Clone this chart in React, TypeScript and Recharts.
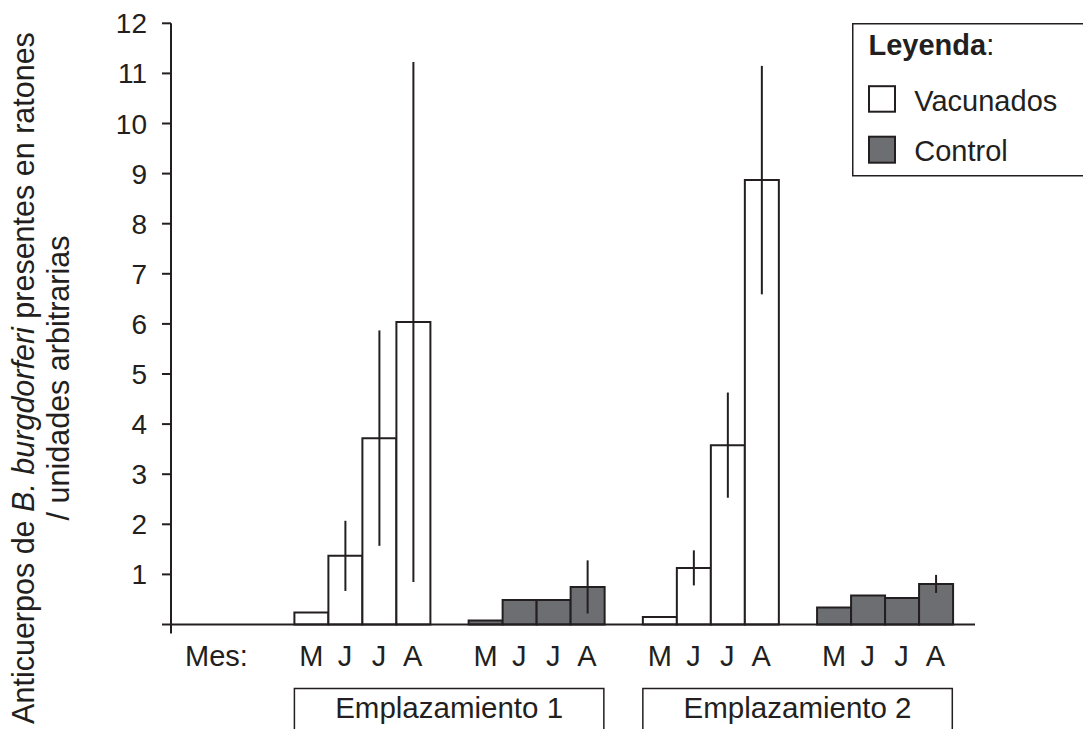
import React from "react";
import { BarChart, Bar, XAxis, YAxis, ErrorBar, Cell, Legend, Label } from "recharts";

// tick labels / categories
const months = ["M", "J", "J", "A"];
const groups = ["Vacunados 1", "Control 1", "Vacunados 2", "Control 2"];
const sites = ["Emplazamiento 1", "Emplazamiento 2"];
const yTicks = [0, 1, 2, 3, 4, 5, 6, 7, 8, 9, 10, 11, 12];

// values (M, J, J, A)
const vacunados1 = [0.24, 1.37, 3.72, 6.04];
const vacunados1Err = [0, 0.7, 2.15, 5.19];
const control1 = [0.08, 0.49, 0.49, 0.75];
const control1Err = [0, 0, 0, 0.53];
const vacunados2 = [0.15, 1.13, 3.58, 8.87];
const vacunados2Err = [0, 0.35, 1.05, 2.28];
const control2 = [0.34, 0.58, 0.53, 0.81];
const control2Err = [0, 0, 0, 0.18];

const series = [vacunados1, control1, vacunados2, control2];
const errors = [vacunados1Err, control1Err, vacunados2Err, control2Err];

const data = groups.map((group, g) => {
	const row: any = { group, control: g % 2 === 1 };
	months.forEach((_, m) => {
		row[`m${m}`] = series[g][m];
		row[`e${m}`] = errors[g][m];
	});
	return row;
});

// layout
const W = 1083;
const H = 729;
const LEFT = 171;
const RIGHT = 975;
const TOP = 23.3;
const BOTTOM = 624.5;
const Y_AXIS_W = 60;
const X_AXIS_H = 60;
const PAD_L = 103.9;
const PAD_R = 3.2;
const CAT_GAP = 19.5;
const BAND = (RIGHT - LEFT - PAD_L - PAD_R) / groups.length;
const BAR_W = (BAND - 2 * CAT_GAP) / months.length;

const INK = "#231f20";
const GREY = "#6d6e71";
const FONT = "'Liberation Sans', Arial, Helvetica, sans-serif";

const XTick = (props: any) => {
	const { x, payload } = props;
	const idx = payload.index;
	const isSiteStart = idx % 2 === 0;
	const left = x - 2 * BAR_W;
	const right = x + BAND + 2 * BAR_W;
	return (
		<g>
			{months.map((m, i) => (
				<text
					key={i}
					x={x + (i - 1.5) * BAR_W}
					y={666}
					textAnchor="middle"
					fontSize={29}
					fontFamily={FONT}
					fill={INK}
				>
					{m}
				</text>
			))}
			{isSiteStart && (
				<g>
					<path
						d={`M${left},${H} V688.5 H${right} V${H}`}
						fill="none"
						stroke={INK}
						strokeWidth={1.5}
					/>
					<text
						x={(left + right) / 2}
						y={718}
						textAnchor="middle"
						fontSize={29.5}
						fontFamily={FONT}
						fill={INK}
					>
						{sites[idx / 2]}
					</text>
				</g>
			)}
		</g>
	);
};

const YTick = (props: any) => {
	const { x, y, payload } = props;
	if (payload.value === 0) {
		return <line x1={LEFT} y1={BOTTOM} x2={LEFT} y2={BOTTOM + 9} stroke={INK} strokeWidth={2} />;
	}
	return (
		<text x={x} y={y} dy="0.36em" textAnchor="end" fontSize={28} fontFamily={FONT} fill={INK}>
			{payload.value}
		</text>
	);
};

const YLabel = () => {
	const cy = 378;
	return (
		<g fontFamily={FONT} fontSize={30.5} fill={INK}>
			<text transform={`translate(34,${cy}) rotate(-90)`} textAnchor="middle">
				Anticuerpos de <tspan fontStyle="italic">B. burgdorferi</tspan> presentes en ratones
			</text>
			<text transform={`translate(68.5,${cy}) rotate(-90)`} textAnchor="middle">
				/ unidades arbitrarias
			</text>
		</g>
	);
};

const LegendBox = () => {
	const bw = W - 851.7;
	const bh = 153.4;
	return (
		<svg width={bw} height={bh} style={{ display: "block" }}>
			<path d={`M${bw},0.75 H0.75 V${bh - 0.75} H${bw}`} fill="none" stroke={INK} strokeWidth={1.5} />
			<text x={16.5} y={31.7} fontSize={29} fontFamily={FONT} fill={INK}>
				<tspan fontWeight="bold">Leyenda</tspan>:
			</text>
			<rect x={17} y={63.2} width={26} height={25.5} fill="#ffffff" stroke={INK} strokeWidth={2} />
			<text x={62.3} y={88.4} fontSize={29} fontFamily={FONT} fill={INK}>
				Vacunados
			</text>
			<rect x={17} y={113.7} width={26} height={26} fill={GREY} stroke={INK} strokeWidth={2} />
			<text x={62.3} y={138.4} fontSize={29} fontFamily={FONT} fill={INK}>
				Control
			</text>
		</svg>
	);
};

const App = () => {
	return (
		<div style={{ position: "absolute", left: 0, top: 0, width: W, height: H, background: "#fff" }}>
			<BarChart
				width={W}
				height={H}
				data={data}
				margin={{ top: TOP, right: W - RIGHT, left: LEFT - Y_AXIS_W, bottom: H - BOTTOM - X_AXIS_H }}
				barCategoryGap={CAT_GAP}
				barGap={0}
			>
				<XAxis
					dataKey="group"
					type="category"
					interval={0}
					height={X_AXIS_H}
					padding={{ left: PAD_L, right: PAD_R }}
					axisLine={{ stroke: INK, strokeWidth: 2 }}
					tickLine={false}
					tick={<XTick />}
				>
					<Label
						content={(p: any) => (
							<text
								x={(p.viewBox?.x ?? LEFT) + 14}
								y={666}
								fontSize={29}
								fontFamily={FONT}
								fill={INK}
							>
								Mes:
							</text>
						)}
					/>
				</XAxis>
				<YAxis
					type="number"
					domain={[0, 12]}
					ticks={yTicks}
					interval={0}
					width={Y_AXIS_W}
					tickSize={9}
					tickMargin={15}
					axisLine={{ stroke: INK, strokeWidth: 2 }}
					tickLine={{ stroke: INK, strokeWidth: 2 }}
					tick={<YTick />}
				>
					<Label content={() => <YLabel />} />
				</YAxis>
				<Legend
					layout="vertical"
					align="center"
					verticalAlign="middle"
					wrapperStyle={{ top: TOP, left: 851.7, width: W - 851.7 }}
					content={() => <LegendBox />}
				/>
				{months.map((_, m) => (
					<Bar
						key={m}
						dataKey={`m${m}`}
						stroke={INK}
						strokeWidth={2}
						isAnimationActive={false}
					>
						{data.map((row, g) => (
							<Cell key={g} fill={row.control ? GREY : "#ffffff"} />
						))}
						<ErrorBar dataKey={`e${m}`} width={0} stroke={INK} strokeWidth={2} direction="y" />
					</Bar>
				))}
			</BarChart>
		</div>
	);
};

export default App;
